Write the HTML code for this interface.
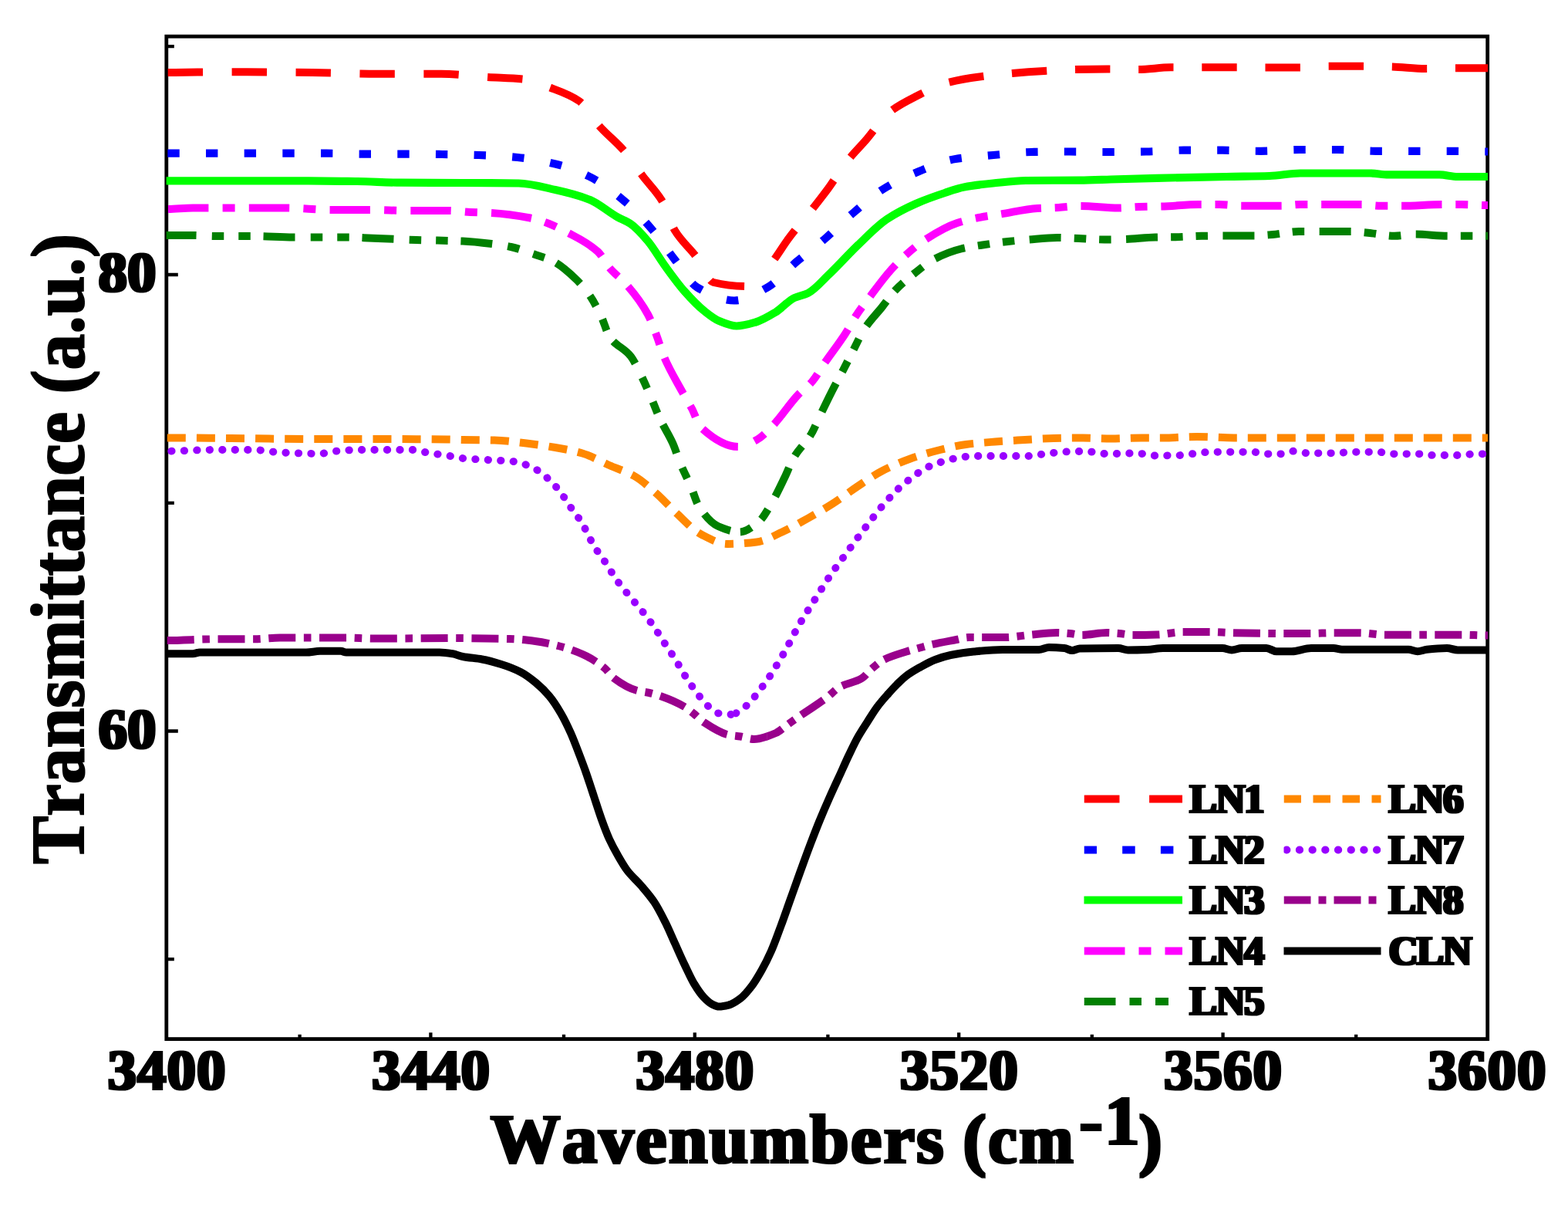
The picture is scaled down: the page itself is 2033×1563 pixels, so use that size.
<!DOCTYPE html>
<html lang="en"><head><meta charset="utf-8"><title>Transmittance vs wavenumbers</title>
<style>html,body{margin:0;padding:0;background:#fff}svg{display:block}text{font-family:"Liberation Serif","DejaVu Serif",serif;font-weight:bold;fill:#000;font-kerning:none}</style></head><body>
<svg width="2033" height="1563" viewBox="0 0 2033 1563">
<rect width="2033" height="1563" fill="#fff"/>
<defs><filter id="h" x="-10%" y="-30%" width="120%" height="160%"><feMorphology operator="dilate" radius="2 1"/></filter><filter id="v" filterUnits="userSpaceOnUse" x="0" y="250" width="160" height="920"><feMorphology operator="dilate" radius="1 1"/></filter><clipPath id="cp"><rect x="215.6" y="47.2" width="1713.4" height="1299.4"/></clipPath><clipPath id="aLN8"><rect x="215.6" y="47.2" width="779.05" height="1299.4"/></clipPath><clipPath id="bLN8"><rect x="994.25" y="47.2" width="934.75" height="1299.4"/></clipPath><clipPath id="aLN7"><rect x="215.6" y="47.2" width="735.80" height="1299.4"/></clipPath><clipPath id="bLN7"><rect x="951.00" y="47.2" width="978.00" height="1299.4"/></clipPath><clipPath id="aLN6"><rect x="215.6" y="47.2" width="730.30" height="1299.4"/></clipPath><clipPath id="bLN6"><rect x="945.50" y="47.2" width="983.50" height="1299.4"/></clipPath><clipPath id="aLN5"><rect x="215.6" y="47.2" width="738.05" height="1299.4"/></clipPath><clipPath id="bLN5"><rect x="953.25" y="47.2" width="975.75" height="1299.4"/></clipPath><clipPath id="aLN4"><rect x="215.6" y="47.2" width="752.80" height="1299.4"/></clipPath><clipPath id="bLN4"><rect x="968.00" y="47.2" width="961.00" height="1299.4"/></clipPath><clipPath id="aLN2"><rect x="215.6" y="47.2" width="758.55" height="1299.4"/></clipPath><clipPath id="bLN2"><rect x="973.75" y="47.2" width="955.25" height="1299.4"/></clipPath><clipPath id="aLN1"><rect x="215.6" y="47.2" width="772.05" height="1299.4"/></clipPath><clipPath id="bLN1"><rect x="987.25" y="47.2" width="941.75" height="1299.4"/></clipPath></defs>
<g stroke="#000" stroke-width="4.8" fill="none">
<rect x="215.8" y="47.2" width="1712.9" height="1299.4"/>
<path d="M388.6 1346.6V1340.8M558.4 1346.6V1338.3M731.0 1346.6V1340.8M900.8 1346.6V1338.3M1073.4 1346.6V1340.8M1243.2 1346.6V1338.3M1415.8 1346.6V1340.8M1585.6 1346.6V1338.3M1758.2 1346.6V1340.8M215.8 1243.2H225.8M215.8 947.5H230.8M215.8 651.8H225.8M215.8 356.0H230.8M215.8 60.2H225.8" stroke-width="4.3"/>
</g>
<g fill="none" stroke-linejoin="round">
<path clip-path="url(#cp)" d="M204.0 847.3C208.0 847.3 212.0 847.3 216.0 847.3C227.3 847.3 238.7 847.3 250.0 847.3C253.0 847.3 256.0 845.5 259.0 845.5C305.0 845.5 351.0 845.5 397.0 845.5C403.0 845.5 409.0 843.8 415.0 843.8C424.0 843.8 433.0 843.8 442.0 843.8C444.3 843.8 446.7 845.5 449.0 845.5C489.3 845.5 529.7 845.5 570.0 845.5C575.7 845.5 581.3 846.4 587.0 847.3C591.3 848.0 595.7 850.2 600.0 851.0C608.3 852.6 616.7 853.0 625.0 854.5C633.3 856.0 641.7 858.4 650.0 861.0C658.3 863.6 666.7 866.7 675.0 871.0C681.7 874.4 688.3 879.5 695.0 885.0C700.8 889.8 706.7 895.5 712.5 902.5C717.5 908.5 722.5 916.4 727.5 925.0C731.7 932.2 735.8 940.7 740.0 950.0C743.3 957.4 746.7 966.3 750.0 975.0C753.3 983.7 756.7 992.5 760.0 1002.0C763.3 1011.5 766.7 1022.0 770.0 1032.0C773.3 1042.0 776.7 1052.8 780.0 1062.0C783.3 1071.2 786.7 1080.2 790.0 1087.5C793.7 1095.5 797.3 1102.1 801.0 1108.5C805.2 1115.8 809.3 1123.1 813.5 1128.5C819.3 1136.1 825.2 1140.7 831.0 1147.5C836.8 1154.3 842.7 1160.8 848.5 1169.5C853.2 1176.5 857.8 1185.7 862.5 1195.0C866.7 1203.3 870.8 1213.3 875.0 1222.5C879.2 1231.7 883.3 1241.3 887.5 1250.0C891.7 1258.7 895.8 1268.1 900.0 1275.0C904.2 1281.9 908.3 1288.1 912.5 1292.5C915.8 1296.0 919.2 1299.3 922.5 1301.0C925.8 1302.7 929.2 1304.5 932.5 1304.5C936.7 1304.5 940.8 1303.5 945.0 1302.5C950.0 1301.3 955.0 1297.7 960.0 1294.0C965.0 1290.3 970.0 1284.1 975.0 1277.5C979.2 1272.0 983.3 1264.9 987.5 1257.5C991.7 1250.1 995.8 1241.9 1000.0 1232.5C1004.2 1223.1 1008.3 1211.2 1012.5 1200.0C1016.7 1188.8 1020.8 1176.7 1025.0 1165.0C1029.2 1153.3 1033.3 1141.5 1037.5 1130.0C1041.7 1118.5 1045.8 1107.0 1050.0 1096.0C1054.2 1085.0 1058.3 1074.2 1062.5 1064.0C1067.0 1053.0 1071.5 1042.6 1076.0 1032.5C1080.7 1022.0 1085.3 1012.2 1090.0 1002.0C1093.3 994.7 1096.7 987.0 1100.0 980.0C1104.2 971.3 1108.3 962.4 1112.5 955.0C1116.7 947.6 1120.8 941.5 1125.0 935.0C1129.2 928.5 1133.3 921.6 1137.5 916.0C1141.7 910.4 1145.8 905.7 1150.0 901.0C1154.2 896.3 1158.3 891.6 1162.5 887.5C1166.7 883.4 1170.8 879.1 1175.0 876.0C1180.8 871.6 1186.7 868.3 1192.5 865.0C1199.2 861.3 1205.8 857.5 1212.5 855.0C1219.2 852.5 1225.8 850.4 1232.5 849.0C1242.5 847.0 1252.5 845.4 1262.5 844.5C1275.0 843.3 1287.5 842.0 1300.0 842.0C1315.7 842.0 1331.3 842.0 1347.0 842.0C1351.3 842.0 1355.7 839.0 1360.0 839.0C1366.7 839.0 1373.3 839.4 1380.0 840.0C1383.3 840.3 1386.7 843.0 1390.0 843.0C1393.3 843.0 1396.7 840.6 1400.0 840.5C1416.7 840.1 1433.3 840.0 1450.0 840.0C1454.2 840.0 1458.3 842.5 1462.5 842.5C1470.8 842.5 1479.2 842.3 1487.5 842.0C1494.3 841.8 1501.2 840.0 1508.0 840.0C1533.7 840.0 1559.3 840.0 1585.0 840.0C1589.0 840.0 1593.0 842.5 1597.0 842.5C1601.3 842.5 1605.7 840.0 1610.0 840.0C1620.7 840.0 1631.3 840.0 1642.0 840.0C1646.3 840.0 1650.7 844.3 1655.0 844.3C1661.7 844.3 1668.3 844.3 1675.0 844.3C1683.3 844.3 1691.7 840.0 1700.0 840.0C1709.7 840.0 1719.3 840.0 1729.0 840.0C1732.7 840.0 1736.3 841.8 1740.0 841.8C1768.7 841.8 1797.3 841.8 1826.0 841.8C1830.0 841.8 1834.0 844.3 1838.0 844.3C1842.0 844.3 1846.0 842.2 1850.0 841.8C1858.7 840.8 1867.3 840.0 1876.0 840.0C1880.7 840.0 1885.3 842.5 1890.0 842.5C1902.7 842.5 1915.3 842.5 1928.0 842.5C1932.0 842.5 1936.0 842.5 1940.0 842.5" stroke="#000000" stroke-width="10.1"/>
<path clip-path="url(#aLN8)" d="M204.0 830.0C208.0 830.0 212.0 830.0 216.0 830.0C237.3 830.0 258.7 828.3 280.0 828.3C296.7 828.3 313.3 828.3 330.0 828.3C341.0 828.3 352.0 826.5 363.0 826.5C391.7 826.5 420.3 826.5 449.0 826.5C460.7 826.5 472.3 827.6 484.0 827.6C518.3 827.6 552.7 827.0 587.0 827.0C601.3 827.0 615.7 827.3 630.0 827.5C640.3 827.6 650.7 827.7 661.0 828.0C672.0 828.3 683.0 829.6 694.0 831.0C704.5 832.3 715.0 834.8 725.5 837.5C735.5 840.1 745.5 843.5 755.5 848.0C765.0 852.3 774.5 858.1 784.0 866.0C788.0 869.3 792.0 876.0 796.0 879.0C806.0 886.5 816.0 892.4 826.0 895.0C831.3 896.4 836.7 896.8 842.0 898.0C847.2 899.2 852.3 900.7 857.5 902.5C867.5 906.0 877.5 910.2 887.5 916.0C891.3 918.2 895.2 921.5 899.0 924.5C903.5 928.1 908.0 933.0 912.5 936.0C923.3 943.1 934.2 950.4 945.0 952.5C950.0 953.5 955.0 953.7 960.0 954.5C965.8 955.4 971.7 958.0 977.5 958.0C987.0 958.0 996.5 954.0 1006.0 950.0C1010.7 948.0 1015.3 943.3 1020.0 940.0C1024.2 937.0 1028.3 933.9 1032.5 931.0C1041.7 924.6 1050.8 918.9 1060.0 912.5C1064.7 909.3 1069.3 906.1 1074.0 902.5C1078.5 899.0 1083.0 893.6 1087.5 891.0C1097.5 885.3 1107.5 885.0 1117.5 879.0C1121.5 876.6 1125.5 871.0 1129.5 867.5C1134.3 863.3 1139.2 858.6 1144.0 856.0C1154.3 850.5 1164.7 847.8 1175.0 844.5C1180.3 842.8 1185.7 841.5 1191.0 840.0C1196.5 838.5 1202.0 836.8 1207.5 835.5C1218.3 833.0 1229.2 831.1 1240.0 829.0C1245.3 828.0 1250.7 826.0 1256.0 826.0C1261.5 826.0 1267.0 826.0 1272.5 826.0C1283.3 826.0 1294.2 826.0 1305.0 826.0C1310.3 826.0 1315.7 825.1 1321.0 824.5C1326.5 823.9 1332.0 823.0 1337.5 822.5C1348.3 821.5 1359.2 820.0 1370.0 820.0C1375.7 820.0 1381.3 820.5 1387.0 821.0C1392.2 821.4 1397.3 823.0 1402.5 823.0C1413.3 823.0 1424.2 820.0 1435.0 820.0C1440.3 820.0 1445.7 820.6 1451.0 821.0C1457.0 821.5 1463.0 823.0 1469.0 823.0C1479.7 823.0 1490.3 822.8 1501.0 822.5C1512.0 822.2 1523.0 819.0 1534.0 819.0C1545.0 819.0 1556.0 819.0 1567.0 819.0C1578.0 819.0 1589.0 820.0 1600.0 820.2C1622.0 820.6 1644.0 821.0 1666.0 821.0C1676.3 821.0 1686.7 821.0 1697.0 821.0C1708.3 821.0 1719.7 820.2 1731.0 820.2C1741.7 820.2 1752.3 820.2 1763.0 820.2C1774.0 820.2 1785.0 822.7 1796.0 822.7C1807.3 822.7 1818.7 822.7 1830.0 822.7C1840.3 822.7 1850.7 822.7 1861.0 822.7C1872.3 822.7 1883.7 822.7 1895.0 822.7C1906.0 822.7 1917.0 823.5 1928.0 823.5C1932.0 823.5 1936.0 823.5 1940.0 823.5" stroke="#99008c" stroke-width="10.0" stroke-linecap="butt" stroke-dasharray="35 10.6 9.6 10.6" stroke-dashoffset="53.07"/>
<path clip-path="url(#bLN8)" d="M1940.0 823.5C1936.0 823.5 1932.0 823.5 1928.0 823.5C1917.0 823.5 1906.0 822.7 1895.0 822.7C1883.7 822.7 1872.3 822.7 1861.0 822.7C1850.7 822.7 1840.3 822.7 1830.0 822.7C1818.7 822.7 1807.3 822.7 1796.0 822.7C1785.0 822.7 1774.0 820.2 1763.0 820.2C1752.3 820.2 1741.7 820.2 1731.0 820.2C1719.7 820.2 1708.3 821.0 1697.0 821.0C1686.7 821.0 1676.3 821.0 1666.0 821.0C1644.0 821.0 1622.0 820.6 1600.0 820.2C1589.0 820.0 1578.0 819.0 1567.0 819.0C1556.0 819.0 1545.0 819.0 1534.0 819.0C1523.0 819.0 1512.0 822.2 1501.0 822.5C1490.3 822.8 1479.7 823.0 1469.0 823.0C1463.0 823.0 1457.0 821.5 1451.0 821.0C1445.7 820.6 1440.3 820.0 1435.0 820.0C1424.2 820.0 1413.3 823.0 1402.5 823.0C1397.3 823.0 1392.2 821.4 1387.0 821.0C1381.3 820.5 1375.7 820.0 1370.0 820.0C1359.2 820.0 1348.3 821.5 1337.5 822.5C1332.0 823.0 1326.5 823.9 1321.0 824.5C1315.7 825.1 1310.3 826.0 1305.0 826.0C1294.2 826.0 1283.3 826.0 1272.5 826.0C1267.0 826.0 1261.5 826.0 1256.0 826.0C1250.7 826.0 1245.3 828.0 1240.0 829.0C1229.2 831.1 1218.3 833.0 1207.5 835.5C1202.0 836.8 1196.5 838.5 1191.0 840.0C1185.7 841.5 1180.3 842.8 1175.0 844.5C1164.7 847.8 1154.3 850.5 1144.0 856.0C1139.2 858.6 1134.3 863.3 1129.5 867.5C1125.5 871.0 1121.5 876.6 1117.5 879.0C1107.5 885.0 1097.5 885.3 1087.5 891.0C1083.0 893.6 1078.5 899.0 1074.0 902.5C1069.3 906.1 1064.7 909.3 1060.0 912.5C1050.8 918.9 1041.7 924.6 1032.5 931.0C1028.3 933.9 1024.2 937.0 1020.0 940.0C1015.3 943.3 1010.7 948.0 1006.0 950.0C996.5 954.0 987.0 958.0 977.5 958.0C971.7 958.0 965.8 955.4 960.0 954.5C955.0 953.7 950.0 953.5 945.0 952.5C934.2 950.4 923.3 943.1 912.5 936.0C908.0 933.0 903.5 928.1 899.0 924.5C895.2 921.5 891.3 918.2 887.5 916.0C877.5 910.2 867.5 906.0 857.5 902.5C852.3 900.7 847.2 899.2 842.0 898.0C836.7 896.8 831.3 896.4 826.0 895.0C816.0 892.4 806.0 886.5 796.0 879.0C792.0 876.0 788.0 869.3 784.0 866.0C774.5 858.1 765.0 852.3 755.5 848.0C745.5 843.5 735.5 840.1 725.5 837.5C715.0 834.8 704.5 832.3 694.0 831.0C683.0 829.6 672.0 828.3 661.0 828.0C650.7 827.7 640.3 827.6 630.0 827.5C615.7 827.3 601.3 827.0 587.0 827.0C552.7 827.0 518.3 827.6 484.0 827.6C472.3 827.6 460.7 826.5 449.0 826.5C420.3 826.5 391.7 826.5 363.0 826.5C352.0 826.5 341.0 828.3 330.0 828.3C313.3 828.3 296.7 828.3 280.0 828.3C258.7 828.3 237.3 830.0 216.0 830.0C212.0 830.0 208.0 830.0 204.0 830.0" stroke="#99008c" stroke-width="10.0" stroke-linecap="butt" stroke-dasharray="35 10.38 9.6 10.38" stroke-dashoffset="20.65"/>
<path clip-path="url(#aLN7)" d="M204.0 584.7C208.0 584.7 212.0 584.7 216.0 584.7C236.0 584.7 256.0 583.0 276.0 583.0C293.3 583.0 310.7 583.0 328.0 583.0C339.7 583.0 351.3 585.8 363.0 586.4C380.3 587.2 397.7 588.0 415.0 588.0C420.7 588.0 426.3 585.5 432.0 585.0C443.3 583.9 454.7 583.0 466.0 583.0C489.0 583.0 512.0 583.0 535.0 583.0C541.0 583.0 547.0 585.4 553.0 586.4C564.3 588.3 575.7 589.7 587.0 591.6C591.3 592.3 595.7 593.6 600.0 594.0C610.8 595.1 621.7 595.3 632.5 596.0C643.3 596.7 654.2 596.9 665.0 598.0C670.8 598.6 676.7 600.5 682.5 602.5C687.0 604.0 691.5 606.3 696.0 609.0C700.3 611.6 704.7 615.2 709.0 619.0C713.0 622.5 717.0 626.5 721.0 631.0C724.3 634.8 727.7 639.4 731.0 644.0C734.3 648.6 737.7 654.3 741.0 659.0C744.0 663.2 747.0 666.6 750.0 671.0C753.0 675.4 756.0 680.5 759.0 686.0C761.3 690.3 763.7 695.7 766.0 700.0C769.0 705.5 772.0 710.5 775.0 715.0C778.0 719.5 781.0 723.1 784.0 727.5C786.8 731.7 789.7 736.7 792.5 741.0C795.7 745.8 798.8 750.7 802.0 755.0C805.3 759.5 808.7 763.4 812.0 767.5C815.5 771.8 819.0 775.8 822.5 780.0C826.0 784.2 829.5 788.1 833.0 792.5C836.3 796.6 839.7 800.9 843.0 805.5C846.3 810.1 849.7 815.0 853.0 820.0C856.0 824.5 859.0 829.4 862.0 834.0C865.0 838.6 868.0 842.9 871.0 847.5C873.8 851.9 876.7 856.3 879.5 861.0C882.3 865.7 885.2 871.0 888.0 875.5C891.0 880.3 894.0 884.7 897.0 889.0C900.3 893.7 903.7 898.4 907.0 902.5C910.7 907.0 914.3 911.9 918.0 915.0C922.7 919.0 927.3 923.7 932.0 924.5C937.3 925.4 942.7 926.0 948.0 926.0C952.8 926.0 957.7 922.1 962.5 919.0C966.5 916.4 970.5 911.8 974.5 907.5C978.0 903.7 981.5 899.0 985.0 894.5C988.3 890.2 991.7 885.8 995.0 881.0C998.0 876.7 1001.0 871.8 1004.0 867.0C1006.8 862.5 1009.7 857.8 1012.5 853.0C1015.2 848.5 1017.8 843.9 1020.5 839.0C1023.0 834.4 1025.5 829.2 1028.0 824.5C1030.7 819.5 1033.3 814.6 1036.0 810.0C1039.0 804.8 1042.0 799.8 1045.0 795.0C1048.0 790.2 1051.0 785.7 1054.0 781.0C1056.8 776.5 1059.7 772.0 1062.5 767.5C1065.3 763.0 1068.2 758.3 1071.0 754.0C1074.2 749.2 1077.3 744.5 1080.5 740.0C1083.7 735.5 1086.8 731.3 1090.0 727.0C1093.2 722.7 1096.3 718.3 1099.5 714.0C1102.7 709.7 1105.8 705.3 1109.0 701.0C1112.5 696.3 1116.0 691.6 1119.5 687.0C1122.8 682.6 1126.2 678.3 1129.5 674.0C1132.8 669.7 1136.2 665.1 1139.5 661.0C1143.0 656.7 1146.5 652.9 1150.0 649.0C1154.0 644.5 1158.0 639.9 1162.0 636.0C1166.0 632.1 1170.0 628.8 1174.0 625.5C1178.5 621.8 1183.0 618.1 1187.5 615.0C1192.5 611.5 1197.5 607.9 1202.5 605.5C1207.7 603.0 1212.8 601.2 1218.0 599.5C1223.3 597.8 1228.7 596.2 1234.0 595.0C1239.3 593.8 1244.7 592.5 1250.0 592.0C1255.3 591.5 1260.7 591.0 1266.0 591.0C1277.3 591.0 1288.7 591.0 1300.0 591.0C1310.8 591.0 1321.7 591.0 1332.5 591.0C1338.0 591.0 1343.5 589.7 1349.0 589.0C1354.3 588.3 1359.7 587.6 1365.0 587.0C1370.3 586.4 1375.7 585.7 1381.0 585.5C1386.5 585.2 1392.0 585.0 1397.5 585.0C1403.0 585.0 1408.5 585.2 1414.0 585.5C1419.3 585.8 1424.7 588.0 1430.0 588.0C1435.8 588.0 1441.7 588.0 1447.5 588.0C1453.0 588.0 1458.5 587.5 1464.0 587.5C1469.3 587.5 1474.7 587.7 1480.0 588.0C1485.3 588.3 1490.7 590.5 1496.0 590.5C1507.7 590.5 1519.3 590.3 1531.0 590.0C1535.7 589.9 1540.3 588.8 1545.0 588.3C1553.3 587.4 1561.7 585.8 1570.0 585.8C1588.2 585.8 1606.3 585.8 1624.5 585.8C1630.5 585.8 1636.5 588.3 1642.5 588.3C1648.5 588.3 1654.5 588.3 1660.5 588.3C1665.9 588.3 1671.4 584.7 1676.8 584.7C1683.4 584.7 1690.0 587.3 1696.6 587.3C1708.6 587.3 1720.7 587.3 1732.7 587.3C1738.7 587.3 1744.7 585.8 1750.7 585.8C1762.7 585.8 1774.8 585.8 1786.8 585.8C1792.8 585.8 1798.8 588.3 1804.8 588.3C1816.8 588.3 1828.8 588.3 1840.8 588.3C1846.8 588.3 1852.9 590.0 1858.9 590.0C1869.7 590.0 1880.5 590.0 1891.3 590.0C1898.5 590.0 1905.8 588.3 1913.0 588.3C1918.0 588.3 1923.0 588.3 1928.0 588.3C1932.0 588.3 1936.0 588.3 1940.0 588.3" stroke="#9900ff" stroke-width="9.8" stroke-linecap="round" stroke-dasharray="0.5 15.98" stroke-dashoffset="14.78"/>
<path clip-path="url(#bLN7)" d="M1940.0 588.3C1936.0 588.3 1932.0 588.3 1928.0 588.3C1923.0 588.3 1918.0 588.3 1913.0 588.3C1905.8 588.3 1898.5 590.0 1891.3 590.0C1880.5 590.0 1869.7 590.0 1858.9 590.0C1852.9 590.0 1846.8 588.3 1840.8 588.3C1828.8 588.3 1816.8 588.3 1804.8 588.3C1798.8 588.3 1792.8 585.8 1786.8 585.8C1774.8 585.8 1762.7 585.8 1750.7 585.8C1744.7 585.8 1738.7 587.3 1732.7 587.3C1720.7 587.3 1708.6 587.3 1696.6 587.3C1690.0 587.3 1683.4 584.7 1676.8 584.7C1671.4 584.7 1665.9 588.3 1660.5 588.3C1654.5 588.3 1648.5 588.3 1642.5 588.3C1636.5 588.3 1630.5 585.8 1624.5 585.8C1606.3 585.8 1588.2 585.8 1570.0 585.8C1561.7 585.8 1553.3 587.4 1545.0 588.3C1540.3 588.8 1535.7 589.9 1531.0 590.0C1519.3 590.3 1507.7 590.5 1496.0 590.5C1490.7 590.5 1485.3 588.3 1480.0 588.0C1474.7 587.7 1469.3 587.5 1464.0 587.5C1458.5 587.5 1453.0 588.0 1447.5 588.0C1441.7 588.0 1435.8 588.0 1430.0 588.0C1424.7 588.0 1419.3 585.8 1414.0 585.5C1408.5 585.2 1403.0 585.0 1397.5 585.0C1392.0 585.0 1386.5 585.2 1381.0 585.5C1375.7 585.7 1370.3 586.4 1365.0 587.0C1359.7 587.6 1354.3 588.3 1349.0 589.0C1343.5 589.7 1338.0 591.0 1332.5 591.0C1321.7 591.0 1310.8 591.0 1300.0 591.0C1288.7 591.0 1277.3 591.0 1266.0 591.0C1260.7 591.0 1255.3 591.5 1250.0 592.0C1244.7 592.5 1239.3 593.8 1234.0 595.0C1228.7 596.2 1223.3 597.8 1218.0 599.5C1212.8 601.2 1207.7 603.0 1202.5 605.5C1197.5 607.9 1192.5 611.5 1187.5 615.0C1183.0 618.1 1178.5 621.8 1174.0 625.5C1170.0 628.8 1166.0 632.1 1162.0 636.0C1158.0 639.9 1154.0 644.5 1150.0 649.0C1146.5 652.9 1143.0 656.7 1139.5 661.0C1136.2 665.1 1132.8 669.7 1129.5 674.0C1126.2 678.3 1122.8 682.6 1119.5 687.0C1116.0 691.6 1112.5 696.3 1109.0 701.0C1105.8 705.3 1102.7 709.7 1099.5 714.0C1096.3 718.3 1093.2 722.7 1090.0 727.0C1086.8 731.3 1083.7 735.5 1080.5 740.0C1077.3 744.5 1074.2 749.2 1071.0 754.0C1068.2 758.3 1065.3 763.0 1062.5 767.5C1059.7 772.0 1056.8 776.5 1054.0 781.0C1051.0 785.7 1048.0 790.2 1045.0 795.0C1042.0 799.8 1039.0 804.8 1036.0 810.0C1033.3 814.6 1030.7 819.5 1028.0 824.5C1025.5 829.2 1023.0 834.4 1020.5 839.0C1017.8 843.9 1015.2 848.5 1012.5 853.0C1009.7 857.8 1006.8 862.5 1004.0 867.0C1001.0 871.8 998.0 876.7 995.0 881.0C991.7 885.8 988.3 890.2 985.0 894.5C981.5 899.0 978.0 903.7 974.5 907.5C970.5 911.8 966.5 916.4 962.5 919.0C957.7 922.1 952.8 926.0 948.0 926.0C942.7 926.0 937.3 925.4 932.0 924.5C927.3 923.7 922.7 919.0 918.0 915.0C914.3 911.9 910.7 907.0 907.0 902.5C903.7 898.4 900.3 893.7 897.0 889.0C894.0 884.7 891.0 880.3 888.0 875.5C885.2 871.0 882.3 865.7 879.5 861.0C876.7 856.3 873.8 851.9 871.0 847.5C868.0 842.9 865.0 838.6 862.0 834.0C859.0 829.4 856.0 824.5 853.0 820.0C849.7 815.0 846.3 810.1 843.0 805.5C839.7 800.9 836.3 796.6 833.0 792.5C829.5 788.1 826.0 784.2 822.5 780.0C819.0 775.8 815.5 771.8 812.0 767.5C808.7 763.4 805.3 759.5 802.0 755.0C798.8 750.7 795.7 745.8 792.5 741.0C789.7 736.7 786.8 731.7 784.0 727.5C781.0 723.1 778.0 719.5 775.0 715.0C772.0 710.5 769.0 705.5 766.0 700.0C763.7 695.7 761.3 690.3 759.0 686.0C756.0 680.5 753.0 675.4 750.0 671.0C747.0 666.6 744.0 663.2 741.0 659.0C737.7 654.3 734.3 648.6 731.0 644.0C727.7 639.4 724.3 634.8 721.0 631.0C717.0 626.5 713.0 622.5 709.0 619.0C704.7 615.2 700.3 611.6 696.0 609.0C691.5 606.3 687.0 604.0 682.5 602.5C676.7 600.5 670.8 598.6 665.0 598.0C654.2 596.9 643.3 596.7 632.5 596.0C621.7 595.3 610.8 595.1 600.0 594.0C595.7 593.6 591.3 592.3 587.0 591.6C575.7 589.7 564.3 588.3 553.0 586.4C547.0 585.4 541.0 583.0 535.0 583.0C512.0 583.0 489.0 583.0 466.0 583.0C454.7 583.0 443.3 583.9 432.0 585.0C426.3 585.5 420.7 588.0 415.0 588.0C397.7 588.0 380.3 587.2 363.0 586.4C351.3 585.8 339.7 583.0 328.0 583.0C310.7 583.0 293.3 583.0 276.0 583.0C256.0 583.0 236.0 584.7 216.0 584.7C212.0 584.7 208.0 584.7 204.0 584.7" stroke="#9900ff" stroke-width="9.8" stroke-linecap="round" stroke-dasharray="0.5 15.9" stroke-dashoffset="15.05"/>
<path clip-path="url(#aLN6)" d="M204.0 567.4C208.0 567.4 212.0 567.4 216.0 567.4C244.0 567.4 272.0 567.8 300.0 568.0C333.3 568.3 366.7 569.0 400.0 569.0C433.3 569.0 466.7 569.0 500.0 569.0C526.7 569.0 553.3 569.2 580.0 569.5C586.7 569.6 593.3 569.9 600.0 570.0C613.7 570.2 627.3 570.2 641.0 570.5C654.8 570.8 668.7 572.9 682.5 574.5C695.0 576.0 707.5 577.8 720.0 580.0C731.7 582.0 743.3 584.1 755.0 587.5C766.7 590.9 778.3 597.9 790.0 603.0C800.8 607.7 811.7 610.9 822.5 617.0C832.0 622.3 841.5 631.2 851.0 639.5C860.0 647.4 869.0 657.8 878.0 666.0C888.3 675.5 898.7 687.1 909.0 692.5C920.2 698.3 931.3 705.0 942.5 705.0C955.3 705.0 968.2 704.0 981.0 702.5C992.0 701.3 1003.0 694.5 1014.0 689.5C1025.3 684.4 1036.7 677.8 1048.0 671.5C1058.7 665.5 1069.3 659.3 1080.0 652.5C1090.3 645.9 1100.7 637.9 1111.0 631.0C1121.5 624.0 1132.0 616.5 1142.5 611.0C1154.7 604.7 1166.8 599.4 1179.0 595.0C1191.0 590.7 1203.0 587.0 1215.0 584.0C1227.5 580.9 1240.0 577.6 1252.5 576.0C1265.0 574.4 1277.5 573.5 1290.0 572.5C1303.0 571.5 1316.0 570.8 1329.0 570.0C1341.3 569.3 1353.7 568.3 1366.0 568.0C1378.7 567.7 1391.3 567.5 1404.0 567.5C1416.3 567.5 1428.7 568.5 1441.0 568.5C1454.0 568.5 1467.0 567.5 1480.0 567.5C1489.3 567.5 1498.7 567.5 1508.0 567.5C1522.7 567.5 1537.3 566.0 1552.0 566.0C1568.0 566.0 1584.0 567.4 1600.0 567.4C1633.3 567.4 1666.7 567.4 1700.0 567.4C1733.3 567.4 1766.7 567.4 1800.0 567.4C1842.7 567.4 1885.3 567.4 1928.0 567.4C1932.0 567.4 1936.0 567.4 1940.0 567.4" stroke="#ff8800" stroke-width="10.0" stroke-linecap="butt" stroke-dasharray="24 14.1" stroke-dashoffset="25.3"/>
<path clip-path="url(#bLN6)" d="M1940.0 567.4C1936.0 567.4 1932.0 567.4 1928.0 567.4C1885.3 567.4 1842.7 567.4 1800.0 567.4C1766.7 567.4 1733.3 567.4 1700.0 567.4C1666.7 567.4 1633.3 567.4 1600.0 567.4C1584.0 567.4 1568.0 566.0 1552.0 566.0C1537.3 566.0 1522.7 567.5 1508.0 567.5C1498.7 567.5 1489.3 567.5 1480.0 567.5C1467.0 567.5 1454.0 568.5 1441.0 568.5C1428.7 568.5 1416.3 567.5 1404.0 567.5C1391.3 567.5 1378.7 567.7 1366.0 568.0C1353.7 568.3 1341.3 569.3 1329.0 570.0C1316.0 570.8 1303.0 571.5 1290.0 572.5C1277.5 573.5 1265.0 574.4 1252.5 576.0C1240.0 577.6 1227.5 580.9 1215.0 584.0C1203.0 587.0 1191.0 590.7 1179.0 595.0C1166.8 599.4 1154.7 604.7 1142.5 611.0C1132.0 616.5 1121.5 624.0 1111.0 631.0C1100.7 637.9 1090.3 645.9 1080.0 652.5C1069.3 659.3 1058.7 665.5 1048.0 671.5C1036.7 677.8 1025.3 684.4 1014.0 689.5C1003.0 694.5 992.0 701.3 981.0 702.5C968.2 704.0 955.3 705.0 942.5 705.0C931.3 705.0 920.2 698.3 909.0 692.5C898.7 687.1 888.3 675.5 878.0 666.0C869.0 657.8 860.0 647.4 851.0 639.5C841.5 631.2 832.0 622.3 822.5 617.0C811.7 610.9 800.8 607.7 790.0 603.0C778.3 597.9 766.7 590.9 755.0 587.5C743.3 584.1 731.7 582.0 720.0 580.0C707.5 577.8 695.0 576.0 682.5 574.5C668.7 572.9 654.8 570.8 641.0 570.5C627.3 570.2 613.7 570.2 600.0 570.0C593.3 569.9 586.7 569.6 580.0 569.5C553.3 569.2 526.7 569.0 500.0 569.0C466.7 569.0 433.3 569.0 400.0 569.0C366.7 569.0 333.3 568.3 300.0 568.0C272.0 567.8 244.0 567.4 216.0 567.4C212.0 567.4 208.0 567.4 204.0 567.4" stroke="#ff8800" stroke-width="10.0" stroke-linecap="butt" stroke-dasharray="24 14" stroke-dashoffset="5.8"/>
<path clip-path="url(#aLN5)" d="M204.0 305.0C208.0 305.0 212.0 305.0 216.0 305.0C227.3 305.0 238.7 305.0 250.0 305.0C260.0 305.0 270.0 306.0 280.0 306.0C296.7 306.0 313.3 306.0 330.0 306.0C346.7 306.0 363.3 307.5 380.0 307.5C403.3 307.5 426.7 307.5 450.0 307.5C463.3 307.5 476.7 308.5 490.0 309.0C506.7 309.6 523.3 310.5 540.0 311.0C560.0 311.6 580.0 311.7 600.0 312.5C612.5 313.0 625.0 314.5 637.5 316.0C645.8 317.0 654.2 318.2 662.5 320.0C672.5 322.1 682.5 326.1 692.5 329.5C700.3 332.2 708.2 334.2 716.0 338.0C726.5 343.1 737.0 352.4 747.5 362.5C753.0 367.8 758.5 374.1 764.0 382.0C769.3 389.6 774.7 399.7 780.0 411.0C783.3 418.1 786.7 431.1 790.0 436.0C799.3 449.6 808.7 450.0 818.0 462.0C822.3 467.6 826.7 477.3 831.0 486.0C835.5 495.1 840.0 505.6 844.5 516.0C848.2 524.5 851.8 534.6 855.5 542.5C861.2 554.7 866.8 562.1 872.5 575.0C875.7 582.2 878.8 592.8 882.0 600.5C886.7 611.8 891.3 620.1 896.0 631.0C899.3 638.8 902.7 650.8 906.0 656.0C914.3 669.0 922.7 678.4 931.0 682.0C940.3 686.0 949.7 689.5 959.0 689.5C967.3 689.5 975.7 682.8 984.0 676.0C989.7 671.4 995.3 660.6 1001.0 651.0C1006.3 642.0 1011.7 630.5 1017.0 619.5C1021.2 610.9 1025.3 599.5 1029.5 592.5C1036.8 580.1 1044.2 575.2 1051.5 563.0C1055.7 556.1 1059.8 545.6 1064.0 537.0C1069.2 526.4 1074.3 515.6 1079.5 505.5C1084.0 496.7 1088.5 488.7 1093.0 480.0C1097.7 471.0 1102.3 461.6 1107.0 452.5C1111.3 444.1 1115.7 434.2 1120.0 427.5C1128.0 415.1 1136.0 407.6 1144.0 397.5C1149.7 390.4 1155.3 381.9 1161.0 376.0C1169.3 367.3 1177.7 360.6 1186.0 354.0C1194.3 347.4 1202.7 340.3 1211.0 336.0C1222.7 330.0 1234.3 325.3 1246.0 322.5C1255.3 320.3 1264.7 318.9 1274.0 317.5C1285.0 315.8 1296.0 314.2 1307.0 313.0C1316.0 312.0 1325.0 311.2 1334.0 310.5C1346.3 309.5 1358.7 308.0 1371.0 308.0C1380.3 308.0 1389.7 308.6 1399.0 309.0C1410.0 309.4 1421.0 310.5 1432.0 310.5C1441.0 310.5 1450.0 310.3 1459.0 310.0C1472.0 309.6 1485.0 307.7 1498.0 307.5C1506.7 307.3 1515.3 307.4 1524.0 307.2C1535.3 307.0 1546.7 306.0 1558.0 305.8C1567.0 305.6 1576.0 305.4 1585.0 305.4C1598.7 305.4 1612.3 305.4 1626.0 305.4C1634.0 305.4 1642.0 304.6 1650.0 304.0C1661.3 303.1 1672.7 300.0 1684.0 300.0C1693.0 300.0 1702.0 300.0 1711.0 300.0C1724.3 300.0 1737.7 300.0 1751.0 300.0C1759.3 300.0 1767.7 301.2 1776.0 302.0C1786.7 303.0 1797.3 305.8 1808.0 305.8C1817.0 305.8 1826.0 303.6 1835.0 303.6C1849.0 303.6 1863.0 305.8 1877.0 305.8C1885.3 305.8 1893.7 305.8 1902.0 305.8C1910.7 305.8 1919.3 305.8 1928.0 305.8C1932.0 305.8 1936.0 305.8 1940.0 305.8" stroke="#008000" stroke-width="10.0" stroke-linecap="butt" stroke-dasharray="41 20.25 15.5 19 15.5 16.75" stroke-dashoffset="118.46"/>
<path clip-path="url(#bLN5)" d="M1940.0 305.8C1936.0 305.8 1932.0 305.8 1928.0 305.8C1919.3 305.8 1910.7 305.8 1902.0 305.8C1893.7 305.8 1885.3 305.8 1877.0 305.8C1863.0 305.8 1849.0 303.6 1835.0 303.6C1826.0 303.6 1817.0 305.8 1808.0 305.8C1797.3 305.8 1786.7 303.0 1776.0 302.0C1767.7 301.2 1759.3 300.0 1751.0 300.0C1737.7 300.0 1724.3 300.0 1711.0 300.0C1702.0 300.0 1693.0 300.0 1684.0 300.0C1672.7 300.0 1661.3 303.1 1650.0 304.0C1642.0 304.6 1634.0 305.4 1626.0 305.4C1612.3 305.4 1598.7 305.4 1585.0 305.4C1576.0 305.4 1567.0 305.6 1558.0 305.8C1546.7 306.0 1535.3 307.0 1524.0 307.2C1515.3 307.4 1506.7 307.3 1498.0 307.5C1485.0 307.7 1472.0 309.6 1459.0 310.0C1450.0 310.3 1441.0 310.5 1432.0 310.5C1421.0 310.5 1410.0 309.4 1399.0 309.0C1389.7 308.6 1380.3 308.0 1371.0 308.0C1358.7 308.0 1346.3 309.5 1334.0 310.5C1325.0 311.2 1316.0 312.0 1307.0 313.0C1296.0 314.2 1285.0 315.8 1274.0 317.5C1264.7 318.9 1255.3 320.3 1246.0 322.5C1234.3 325.3 1222.7 330.0 1211.0 336.0C1202.7 340.3 1194.3 347.4 1186.0 354.0C1177.7 360.6 1169.3 367.3 1161.0 376.0C1155.3 381.9 1149.7 390.4 1144.0 397.5C1136.0 407.6 1128.0 415.1 1120.0 427.5C1115.7 434.2 1111.3 444.1 1107.0 452.5C1102.3 461.6 1097.7 471.0 1093.0 480.0C1088.5 488.7 1084.0 496.7 1079.5 505.5C1074.3 515.6 1069.2 526.4 1064.0 537.0C1059.8 545.6 1055.7 556.1 1051.5 563.0C1044.2 575.2 1036.8 580.1 1029.5 592.5C1025.3 599.5 1021.2 610.9 1017.0 619.5C1011.7 630.5 1006.3 642.0 1001.0 651.0C995.3 660.6 989.7 671.4 984.0 676.0C975.7 682.8 967.3 689.5 959.0 689.5C949.7 689.5 940.3 686.0 931.0 682.0C922.7 678.4 914.3 669.0 906.0 656.0C902.7 650.8 899.3 638.8 896.0 631.0C891.3 620.1 886.7 611.8 882.0 600.5C878.8 592.8 875.7 582.2 872.5 575.0C866.8 562.1 861.2 554.7 855.5 542.5C851.8 534.6 848.2 524.5 844.5 516.0C840.0 505.6 835.5 495.1 831.0 486.0C826.7 477.3 822.3 467.6 818.0 462.0C808.7 450.0 799.3 449.6 790.0 436.0C786.7 431.1 783.3 418.1 780.0 411.0C774.7 399.7 769.3 389.6 764.0 382.0C758.5 374.1 753.0 367.8 747.5 362.5C737.0 352.4 726.5 343.1 716.0 338.0C708.2 334.2 700.3 332.2 692.5 329.5C682.5 326.1 672.5 322.1 662.5 320.0C654.2 318.2 645.8 317.0 637.5 316.0C625.0 314.5 612.5 313.0 600.0 312.5C580.0 311.7 560.0 311.6 540.0 311.0C523.3 310.5 506.7 309.6 490.0 309.0C476.7 308.5 463.3 307.5 450.0 307.5C426.7 307.5 403.3 307.5 380.0 307.5C363.3 307.5 346.7 306.0 330.0 306.0C313.3 306.0 296.7 306.0 280.0 306.0C270.0 306.0 260.0 305.0 250.0 305.0C238.7 305.0 227.3 305.0 216.0 305.0C212.0 305.0 208.0 305.0 204.0 305.0" stroke="#008000" stroke-width="10.0" stroke-linecap="butt" stroke-dasharray="41 19.45 15.5 16.9 15.5 17.15" stroke-dashoffset="62.17"/>
<path clip-path="url(#aLN4)" d="M204.0 271.0C208.0 271.0 212.0 271.0 216.0 271.0C227.3 271.0 238.7 269.5 250.0 269.5C290.0 269.5 330.0 269.5 370.0 269.5C390.0 269.5 410.0 272.0 430.0 272.0C446.7 272.0 463.3 272.0 480.0 272.0C496.7 272.0 513.3 273.0 530.0 273.0C546.7 273.0 563.3 273.0 580.0 273.0C589.8 273.0 599.7 274.5 609.5 275.0C618.3 275.4 627.2 275.5 636.0 276.0C653.2 276.9 670.3 279.3 687.5 282.5C695.7 284.0 703.8 286.9 712.0 290.0C719.7 292.9 727.3 296.9 735.0 301.0C748.3 308.1 761.7 313.9 775.0 326.0C780.3 330.8 785.7 341.9 791.0 348.0C797.7 355.7 804.3 360.0 811.0 367.5C820.7 378.4 830.3 389.8 840.0 407.5C843.7 414.2 847.3 424.4 851.0 434.0C854.3 442.7 857.7 454.6 861.0 462.5C868.2 479.4 875.3 490.8 882.5 504.0C887.3 512.9 892.2 520.3 897.0 529.5C901.0 537.1 905.0 550.3 909.0 554.0C925.2 569.1 941.3 579.0 957.5 579.0C965.7 579.0 973.8 574.0 982.0 569.5C988.8 565.7 995.7 558.0 1002.5 551.0C1013.0 540.2 1023.5 523.6 1034.0 512.5C1040.3 505.8 1046.7 501.9 1053.0 494.5C1058.5 488.1 1064.0 478.0 1069.5 470.0C1078.3 457.2 1087.2 446.2 1096.0 432.5C1100.7 425.3 1105.3 416.1 1110.0 409.0C1115.8 400.2 1121.7 392.7 1127.5 385.0C1136.7 372.9 1145.8 360.2 1155.0 350.0C1161.7 342.6 1168.3 335.9 1175.0 330.0C1183.0 322.9 1191.0 316.1 1199.0 311.0C1213.0 302.0 1227.0 293.6 1241.0 289.0C1250.3 285.9 1259.7 283.8 1269.0 282.0C1278.5 280.2 1288.0 279.0 1297.5 277.5C1313.3 275.0 1329.2 270.9 1345.0 270.0C1354.2 269.5 1363.3 269.4 1372.5 269.0C1382.0 268.5 1391.5 267.0 1401.0 267.0C1417.3 267.0 1433.7 269.5 1450.0 269.5C1459.0 269.5 1468.0 268.2 1477.0 268.0C1486.7 267.7 1496.3 267.7 1506.0 267.5C1522.0 267.1 1538.0 265.0 1554.0 265.0C1563.0 265.0 1572.0 265.0 1581.0 265.0C1590.7 265.0 1600.3 266.8 1610.0 266.8C1626.8 266.8 1643.7 266.8 1660.5 266.8C1669.0 266.8 1677.5 265.0 1686.0 265.0C1695.0 265.0 1704.0 265.0 1713.0 265.0C1730.3 265.0 1747.7 265.0 1765.0 265.0C1773.3 265.0 1781.7 266.8 1790.0 266.8C1799.0 266.8 1808.0 266.8 1817.0 266.8C1834.7 266.8 1852.3 265.0 1870.0 265.0C1878.3 265.0 1886.7 265.0 1895.0 265.0C1906.0 265.0 1917.0 266.0 1928.0 266.0C1932.0 266.0 1936.0 266.0 1940.0 266.0" stroke="#ff00ff" stroke-width="10.0" stroke-linecap="butt" stroke-dasharray="52.4 18.2 16 18.2" stroke-dashoffset="90.76"/>
<path clip-path="url(#bLN4)" d="M1940.0 266.0C1936.0 266.0 1932.0 266.0 1928.0 266.0C1917.0 266.0 1906.0 265.0 1895.0 265.0C1886.7 265.0 1878.3 265.0 1870.0 265.0C1852.3 265.0 1834.7 266.8 1817.0 266.8C1808.0 266.8 1799.0 266.8 1790.0 266.8C1781.7 266.8 1773.3 265.0 1765.0 265.0C1747.7 265.0 1730.3 265.0 1713.0 265.0C1704.0 265.0 1695.0 265.0 1686.0 265.0C1677.5 265.0 1669.0 266.8 1660.5 266.8C1643.7 266.8 1626.8 266.8 1610.0 266.8C1600.3 266.8 1590.7 265.0 1581.0 265.0C1572.0 265.0 1563.0 265.0 1554.0 265.0C1538.0 265.0 1522.0 267.1 1506.0 267.5C1496.3 267.7 1486.7 267.7 1477.0 268.0C1468.0 268.2 1459.0 269.5 1450.0 269.5C1433.7 269.5 1417.3 267.0 1401.0 267.0C1391.5 267.0 1382.0 268.5 1372.5 269.0C1363.3 269.4 1354.2 269.5 1345.0 270.0C1329.2 270.9 1313.3 275.0 1297.5 277.5C1288.0 279.0 1278.5 280.2 1269.0 282.0C1259.7 283.8 1250.3 285.9 1241.0 289.0C1227.0 293.6 1213.0 302.0 1199.0 311.0C1191.0 316.1 1183.0 322.9 1175.0 330.0C1168.3 335.9 1161.7 342.6 1155.0 350.0C1145.8 360.2 1136.7 372.9 1127.5 385.0C1121.7 392.7 1115.8 400.2 1110.0 409.0C1105.3 416.1 1100.7 425.3 1096.0 432.5C1087.2 446.2 1078.3 457.2 1069.5 470.0C1064.0 478.0 1058.5 488.1 1053.0 494.5C1046.7 501.9 1040.3 505.8 1034.0 512.5C1023.5 523.6 1013.0 540.2 1002.5 551.0C995.7 558.0 988.8 565.7 982.0 569.5C973.8 574.0 965.7 579.0 957.5 579.0C941.3 579.0 925.2 569.1 909.0 554.0C905.0 550.3 901.0 537.1 897.0 529.5C892.2 520.3 887.3 512.9 882.5 504.0C875.3 490.8 868.2 479.4 861.0 462.5C857.7 454.6 854.3 442.7 851.0 434.0C847.3 424.4 843.7 414.2 840.0 407.5C830.3 389.8 820.7 378.4 811.0 367.5C804.3 360.0 797.7 355.7 791.0 348.0C785.7 341.9 780.3 330.8 775.0 326.0C761.7 313.9 748.3 308.1 735.0 301.0C727.3 296.9 719.7 292.9 712.0 290.0C703.8 286.9 695.7 284.0 687.5 282.5C670.3 279.3 653.2 276.9 636.0 276.0C627.2 275.5 618.3 275.4 609.5 275.0C599.7 274.5 589.8 273.0 580.0 273.0C563.3 273.0 546.7 273.0 530.0 273.0C513.3 273.0 496.7 272.0 480.0 272.0C463.3 272.0 446.7 272.0 430.0 272.0C410.0 272.0 390.0 269.5 370.0 269.5C330.0 269.5 290.0 269.5 250.0 269.5C238.7 269.5 227.3 271.0 216.0 271.0C212.0 271.0 208.0 271.0 204.0 271.0" stroke="#ff00ff" stroke-width="10.0" stroke-linecap="butt" stroke-dasharray="52.4 17.8 16 17.8" stroke-dashoffset="33.46"/>
<path clip-path="url(#cp)" d="M204.0 234.3C208.0 234.3 212.0 234.3 216.0 234.3C244.0 234.3 272.0 234.3 300.0 234.3C333.3 234.3 366.7 234.3 400.0 234.3C421.0 234.3 442.0 234.7 463.0 235.0C482.0 235.3 501.0 236.6 520.0 236.7C546.7 236.9 573.3 236.9 600.0 237.0C624.2 237.1 648.3 237.2 672.5 237.5C688.3 237.7 704.2 242.5 720.0 246.0C735.0 249.3 750.0 253.0 765.0 259.0C776.7 263.7 788.3 274.5 800.0 281.0C805.8 284.3 811.7 286.1 817.5 290.0C825.0 295.0 832.5 303.6 840.0 312.5C847.5 321.4 855.0 334.7 862.5 345.0C870.8 356.4 879.2 368.1 887.5 377.5C895.8 386.9 904.2 395.8 912.5 402.5C919.2 407.8 925.8 413.3 932.5 416.0C940.0 419.1 947.5 422.5 955.0 422.5C963.3 422.5 971.7 419.9 980.0 417.5C988.3 415.1 996.7 410.0 1005.0 405.0C1013.3 400.0 1021.7 389.9 1030.0 386.0C1035.8 383.3 1041.7 382.8 1047.5 380.0C1056.7 375.6 1065.8 364.2 1075.0 355.5C1087.5 343.7 1100.0 329.4 1112.5 317.5C1125.0 305.6 1137.5 292.3 1150.0 284.0C1162.5 275.7 1175.0 269.5 1187.5 264.0C1200.0 258.5 1212.5 254.1 1225.0 250.0C1233.3 247.2 1241.7 244.1 1250.0 242.5C1262.5 240.1 1275.0 238.8 1287.5 237.5C1301.7 236.1 1315.8 234.2 1330.0 234.0C1353.3 233.7 1376.7 233.8 1400.0 233.6C1413.3 233.5 1426.7 232.9 1440.0 232.5C1460.0 231.9 1480.0 231.3 1500.0 230.8C1530.0 230.1 1560.0 229.6 1590.0 229.0C1608.7 228.6 1627.3 228.6 1646.0 228.0C1659.3 227.6 1672.7 224.5 1686.0 224.5C1716.0 224.5 1746.0 224.5 1776.0 224.5C1784.0 224.5 1792.0 226.4 1800.0 226.4C1822.0 226.4 1844.0 226.4 1866.0 226.4C1874.0 226.4 1882.0 229.0 1890.0 229.0C1902.7 229.0 1915.3 229.0 1928.0 229.0C1932.0 229.0 1936.0 229.0 1940.0 229.0" stroke="#00ff00" stroke-width="10.2"/>
<path clip-path="url(#aLN2)" d="M204.0 198.7C208.0 198.7 212.0 198.7 216.0 198.7C235.6 198.7 255.1 198.7 274.7 198.7C291.4 198.7 308.1 198.7 324.8 198.7C340.9 198.7 357.1 198.7 373.2 198.7C389.9 198.7 406.6 198.7 423.3 198.7C440.0 198.7 456.7 199.7 473.4 199.7C490.1 199.7 506.8 199.7 523.5 199.7C540.2 199.7 556.9 199.8 573.6 200.0C589.4 200.1 605.2 200.5 621.0 201.0C637.7 201.5 654.3 202.5 671.0 204.0C687.3 205.5 703.7 208.6 720.0 212.5C734.8 216.0 749.7 221.8 764.5 229.0C779.7 236.4 794.8 248.2 810.0 261.0C821.7 270.8 833.3 283.5 845.0 297.0C854.8 308.4 864.7 323.4 874.5 336.0C884.3 348.6 894.2 366.8 904.0 372.5C920.0 381.7 936.0 389.5 952.0 389.5C966.3 389.5 980.7 380.4 995.0 372.5C1007.7 365.5 1020.3 349.7 1033.0 339.0C1045.0 328.9 1057.0 320.3 1069.0 310.0C1081.0 299.7 1093.0 287.2 1105.0 277.0C1118.2 265.8 1131.3 253.6 1144.5 245.5C1159.8 236.0 1175.2 228.7 1190.5 222.5C1206.7 215.9 1222.8 208.5 1239.0 206.0C1255.3 203.4 1271.7 202.5 1288.0 201.0C1304.5 199.5 1321.0 197.3 1337.5 197.0C1354.0 196.7 1370.5 196.5 1387.0 196.5C1403.3 196.5 1419.7 197.0 1436.0 197.0C1452.7 197.0 1469.3 196.8 1486.0 196.5C1502.3 196.2 1518.7 194.7 1535.0 194.7C1551.7 194.7 1568.3 194.7 1585.0 194.7C1601.5 194.7 1618.1 195.8 1634.6 195.8C1651.3 195.8 1668.0 194.0 1684.7 194.0C1701.3 194.0 1717.9 194.0 1734.5 194.0C1751.0 194.0 1767.5 195.8 1784.0 195.8C1800.5 195.8 1817.1 195.8 1833.6 195.8C1850.2 195.8 1866.8 195.8 1883.4 195.8C1898.3 195.8 1913.1 196.5 1928.0 196.5C1932.0 196.5 1936.0 196.5 1940.0 196.5" stroke="#0000ff" stroke-width="10.2" stroke-linecap="butt" stroke-dasharray="15.4 34.26" stroke-dashoffset="36.32"/>
<path clip-path="url(#bLN2)" d="M1940.0 196.5C1936.0 196.5 1932.0 196.5 1928.0 196.5C1913.1 196.5 1898.3 195.8 1883.4 195.8C1866.8 195.8 1850.2 195.8 1833.6 195.8C1817.1 195.8 1800.5 195.8 1784.0 195.8C1767.5 195.8 1751.0 194.0 1734.5 194.0C1717.9 194.0 1701.3 194.0 1684.7 194.0C1668.0 194.0 1651.3 195.8 1634.6 195.8C1618.1 195.8 1601.5 194.7 1585.0 194.7C1568.3 194.7 1551.7 194.7 1535.0 194.7C1518.7 194.7 1502.3 196.2 1486.0 196.5C1469.3 196.8 1452.7 197.0 1436.0 197.0C1419.7 197.0 1403.3 196.5 1387.0 196.5C1370.5 196.5 1354.0 196.7 1337.5 197.0C1321.0 197.3 1304.5 199.5 1288.0 201.0C1271.7 202.5 1255.3 203.4 1239.0 206.0C1222.8 208.5 1206.7 215.9 1190.5 222.5C1175.2 228.7 1159.8 236.0 1144.5 245.5C1131.3 253.6 1118.2 265.8 1105.0 277.0C1093.0 287.2 1081.0 299.7 1069.0 310.0C1057.0 320.3 1045.0 328.9 1033.0 339.0C1020.3 349.7 1007.7 365.5 995.0 372.5C980.7 380.4 966.3 389.5 952.0 389.5C936.0 389.5 920.0 381.7 904.0 372.5C894.2 366.8 884.3 348.6 874.5 336.0C864.7 323.4 854.8 308.4 845.0 297.0C833.3 283.5 821.7 270.8 810.0 261.0C794.8 248.2 779.7 236.4 764.5 229.0C749.7 221.8 734.8 216.0 720.0 212.5C703.7 208.6 687.3 205.5 671.0 204.0C654.3 202.5 637.7 201.5 621.0 201.0C605.2 200.5 589.4 200.1 573.6 200.0C556.9 199.8 540.2 199.7 523.5 199.7C506.8 199.7 490.1 199.7 473.4 199.7C456.7 199.7 440.0 198.7 423.3 198.7C406.6 198.7 389.9 198.7 373.2 198.7C357.1 198.7 340.9 198.7 324.8 198.7C308.1 198.7 291.4 198.7 274.7 198.7C255.1 198.7 235.6 198.7 216.0 198.7C212.0 198.7 208.0 198.7 204.0 198.7" stroke="#0000ff" stroke-width="10.2" stroke-linecap="butt" stroke-dasharray="15.4 34.2" stroke-dashoffset="0.69"/>
<path clip-path="url(#aLN1)" d="M204.0 94.0C208.0 94.0 212.0 94.0 216.0 94.0C230.7 94.0 245.3 93.6 260.0 93.5C280.0 93.4 300.0 93.3 320.0 93.3C348.3 93.3 376.7 93.7 405.0 94.0C433.3 94.3 461.7 95.7 490.0 95.7C517.3 95.7 544.7 95.7 572.0 95.7C592.2 95.7 612.3 98.7 632.5 100.0C647.5 100.9 662.5 101.1 677.5 102.5C689.6 103.7 701.7 109.3 713.8 113.8C726.2 118.4 738.6 122.4 751.0 131.0C759.8 137.1 768.7 154.0 777.5 163.8C787.9 175.3 798.3 183.0 808.8 195.0C817.1 204.6 825.4 217.8 833.8 228.8C842.1 239.7 850.4 246.9 858.8 261.0C864.2 270.2 869.6 289.8 875.0 298.8C884.2 313.9 893.3 320.1 902.5 332.5C910.0 342.6 917.5 364.2 925.0 366.0C939.6 369.4 954.2 371.0 968.8 371.0C979.2 371.0 989.6 353.1 1000.0 341.0C1007.5 332.3 1015.0 318.9 1022.5 309.0C1031.7 296.8 1040.8 286.6 1050.0 275.0C1058.0 264.9 1066.0 254.9 1074.0 244.0C1081.8 233.3 1089.7 220.0 1097.5 210.0C1106.3 198.8 1115.2 190.3 1124.0 180.0C1133.5 169.0 1143.0 153.7 1152.5 146.0C1164.2 136.6 1175.8 130.9 1187.5 125.0C1201.3 118.0 1215.2 110.6 1229.0 107.0C1242.7 103.5 1256.3 101.3 1270.0 99.5C1284.2 97.6 1298.3 96.2 1312.5 95.0C1326.3 93.8 1340.2 92.8 1354.0 92.0C1367.7 91.2 1381.3 90.3 1395.0 90.0C1408.7 89.7 1422.3 89.5 1436.0 89.5C1449.3 89.5 1462.7 90.0 1476.0 90.0C1490.0 90.0 1504.0 87.3 1518.0 87.3C1532.0 87.3 1546.0 87.3 1560.0 87.3C1574.3 87.3 1588.7 87.3 1603.0 87.3C1615.3 87.3 1627.7 87.6 1640.0 87.6C1654.7 87.6 1669.3 87.6 1684.0 87.6C1697.3 87.6 1710.7 85.8 1724.0 85.8C1738.3 85.8 1752.7 85.8 1767.0 85.8C1779.7 85.8 1792.3 86.1 1805.0 86.5C1819.3 86.9 1833.7 89.0 1848.0 89.0C1861.3 89.0 1874.7 88.3 1888.0 88.3C1901.3 88.3 1914.7 88.3 1928.0 88.3C1932.0 88.3 1936.0 88.3 1940.0 88.3" stroke="#ff0000" stroke-width="10.0" stroke-linecap="butt" stroke-dasharray="45.4 37.53" stroke-dashoffset="69.26"/>
<path clip-path="url(#bLN1)" d="M1940.0 88.3C1936.0 88.3 1932.0 88.3 1928.0 88.3C1914.7 88.3 1901.3 88.3 1888.0 88.3C1874.7 88.3 1861.3 89.0 1848.0 89.0C1833.7 89.0 1819.3 86.9 1805.0 86.5C1792.3 86.1 1779.7 85.8 1767.0 85.8C1752.7 85.8 1738.3 85.8 1724.0 85.8C1710.7 85.8 1697.3 87.6 1684.0 87.6C1669.3 87.6 1654.7 87.6 1640.0 87.6C1627.7 87.6 1615.3 87.3 1603.0 87.3C1588.7 87.3 1574.3 87.3 1560.0 87.3C1546.0 87.3 1532.0 87.3 1518.0 87.3C1504.0 87.3 1490.0 90.0 1476.0 90.0C1462.7 90.0 1449.3 89.5 1436.0 89.5C1422.3 89.5 1408.7 89.7 1395.0 90.0C1381.3 90.3 1367.7 91.2 1354.0 92.0C1340.2 92.8 1326.3 93.8 1312.5 95.0C1298.3 96.2 1284.2 97.6 1270.0 99.5C1256.3 101.3 1242.7 103.5 1229.0 107.0C1215.2 110.6 1201.3 118.0 1187.5 125.0C1175.8 130.9 1164.2 136.6 1152.5 146.0C1143.0 153.7 1133.5 169.0 1124.0 180.0C1115.2 190.3 1106.3 198.8 1097.5 210.0C1089.7 220.0 1081.8 233.3 1074.0 244.0C1066.0 254.9 1058.0 264.9 1050.0 275.0C1040.8 286.6 1031.7 296.8 1022.5 309.0C1015.0 318.9 1007.5 332.3 1000.0 341.0C989.6 353.1 979.2 371.0 968.8 371.0C954.2 371.0 939.6 369.4 925.0 366.0C917.5 364.2 910.0 342.6 902.5 332.5C893.3 320.1 884.2 313.9 875.0 298.8C869.6 289.8 864.2 270.2 858.8 261.0C850.4 246.9 842.1 239.7 833.8 228.8C825.4 217.8 817.1 204.6 808.8 195.0C798.3 183.0 787.9 175.3 777.5 163.8C768.7 154.0 759.8 137.1 751.0 131.0C738.6 122.4 726.2 118.4 713.8 113.8C701.7 109.3 689.6 103.7 677.5 102.5C662.5 101.1 647.5 100.9 632.5 100.0C612.3 98.7 592.2 95.7 572.0 95.7C544.7 95.7 517.3 95.7 490.0 95.7C461.7 95.7 433.3 94.3 405.0 94.0C376.7 93.7 348.3 93.3 320.0 93.3C300.0 93.3 280.0 93.4 260.0 93.5C245.3 93.6 230.7 94.0 216.0 94.0C212.0 94.0 208.0 94.0 204.0 94.0" stroke="#ff0000" stroke-width="10.0" stroke-linecap="butt" stroke-dasharray="45.4 36.8" stroke-dashoffset="74.56"/>
</g>
<g font-size="75" text-anchor="middle" filter="url(#h)">
<text x="216.0" y="1411.6" textLength="153" lengthAdjust="spacing">3400</text>
<text x="558.4" y="1411.6" textLength="153" lengthAdjust="spacing">3440</text>
<text x="900.8" y="1411.6" textLength="153" lengthAdjust="spacing">3480</text>
<text x="1243.2" y="1411.6" textLength="153" lengthAdjust="spacing">3520</text>
<text x="1585.6" y="1411.6" textLength="153" lengthAdjust="spacing">3560</text>
<text x="1928.0" y="1411.6" textLength="153" lengthAdjust="spacing">3600</text>
</g>
<g font-size="75" text-anchor="end" filter="url(#h)">
<text x="202.5" y="377.6" textLength="75" lengthAdjust="spacing">80</text>
<text x="202.5" y="969.6" textLength="75" lengthAdjust="spacing">60</text>
</g>
<text font-size="90.5" y="1506.6" filter="url(#h)"><tspan x="636" textLength="587.5" lengthAdjust="spacing">Wavenumbers</tspan> <tspan x="1248.5">(</tspan><tspan x="1281.5" textLength="37" lengthAdjust="spacingAndGlyphs">c</tspan><tspan x="1321.5" textLength="70" lengthAdjust="spacingAndGlyphs">m</tspan><tspan x="1399.5" y="1482.6" textLength="78" lengthAdjust="spacing">-1</tspan><tspan x="1476.5" y="1506.6">)</tspan></text>
<g filter="url(#v)"><text font-size="98" transform="translate(108.3 1120) rotate(-90)" textLength="817" lengthAdjust="spacingAndGlyphs">Transmittance (a.u.)</text></g>
<g fill="none">
<clipPath id="lcLN1"><rect x="1405.5" y="1020.5" width="127.5" height="30"/></clipPath>
<path clip-path="url(#lcLN1)" d="M1405.5 1035.5H1573.0" stroke="#ff0000" stroke-width="10.0" stroke-linecap="butt" stroke-dasharray="46 38.6" stroke-dashoffset="0"/>
<clipPath id="lcLN2"><rect x="1405.5" y="1086.5" width="127.5" height="30"/></clipPath>
<path clip-path="url(#lcLN2)" d="M1405.5 1101.5H1573.0" stroke="#0000ff" stroke-width="10.2" stroke-linecap="butt" stroke-dasharray="16.5 33.2" stroke-dashoffset="0"/>
<path d="M1405.5 1166.5H1533.0" stroke="#00ff00" stroke-width="10.2"/>
<clipPath id="lcLN4"><rect x="1405.5" y="1217.5" width="127.5" height="30"/></clipPath>
<path clip-path="url(#lcLN4)" d="M1405.5 1232.5H1573.0" stroke="#ff00ff" stroke-width="10.0" stroke-linecap="butt" stroke-dasharray="53 18 16 18" stroke-dashoffset="0"/>
<clipPath id="lcLN5"><rect x="1405.5" y="1283.0" width="127.5" height="30"/></clipPath>
<path clip-path="url(#lcLN5)" d="M1405.5 1298.0H1573.0" stroke="#008000" stroke-width="10.0" stroke-linecap="butt" stroke-dasharray="41 18 15.5 18 17 100" stroke-dashoffset="0"/>
<clipPath id="lcLN6"><rect x="1664.5" y="1020.5" width="126.0" height="30"/></clipPath>
<path clip-path="url(#lcLN6)" d="M1664.5 1035.5H1830.5" stroke="#ff8800" stroke-width="10.0" stroke-linecap="butt" stroke-dasharray="22.5 15.5" stroke-dashoffset="0"/>
<clipPath id="lcLN7"><rect x="1664.5" y="1086.5" width="126.0" height="30"/></clipPath>
<path clip-path="url(#lcLN7)" d="M1664.5 1101.5H1830.5" stroke="#9900ff" stroke-width="9.8" stroke-linecap="round" stroke-dasharray="0.5 16.2" stroke-dashoffset="-3.5"/>
<clipPath id="lcLN8"><rect x="1664.5" y="1151.5" width="126.0" height="30"/></clipPath>
<path clip-path="url(#lcLN8)" d="M1664.5 1166.5H1830.5" stroke="#99008c" stroke-width="10.0" stroke-linecap="butt" stroke-dasharray="35 10 10 10" stroke-dashoffset="0"/>
<path d="M1664.5 1232.5H1790.5" stroke="#000000" stroke-width="10.1"/>
</g>
<g font-size="53" filter="url(#h)">
<text x="1542.5" y="1052.8" textLength="97" lengthAdjust="spacing">LN1</text>
<text x="1542.5" y="1118.8" textLength="97" lengthAdjust="spacing">LN2</text>
<text x="1542.5" y="1183.8" textLength="97" lengthAdjust="spacing">LN3</text>
<text x="1542.5" y="1249.8" textLength="97" lengthAdjust="spacing">LN4</text>
<text x="1542.5" y="1315.3" textLength="97" lengthAdjust="spacing">LN5</text>
<text x="1800.5" y="1052.8" textLength="97" lengthAdjust="spacing">LN6</text>
<text x="1800.5" y="1118.8" textLength="97" lengthAdjust="spacing">LN7</text>
<text x="1800.5" y="1183.8" textLength="97" lengthAdjust="spacing">LN8</text>
<text x="1800.5" y="1249.8" textLength="108" lengthAdjust="spacing">CLN</text>
</g>
</svg></body></html>
